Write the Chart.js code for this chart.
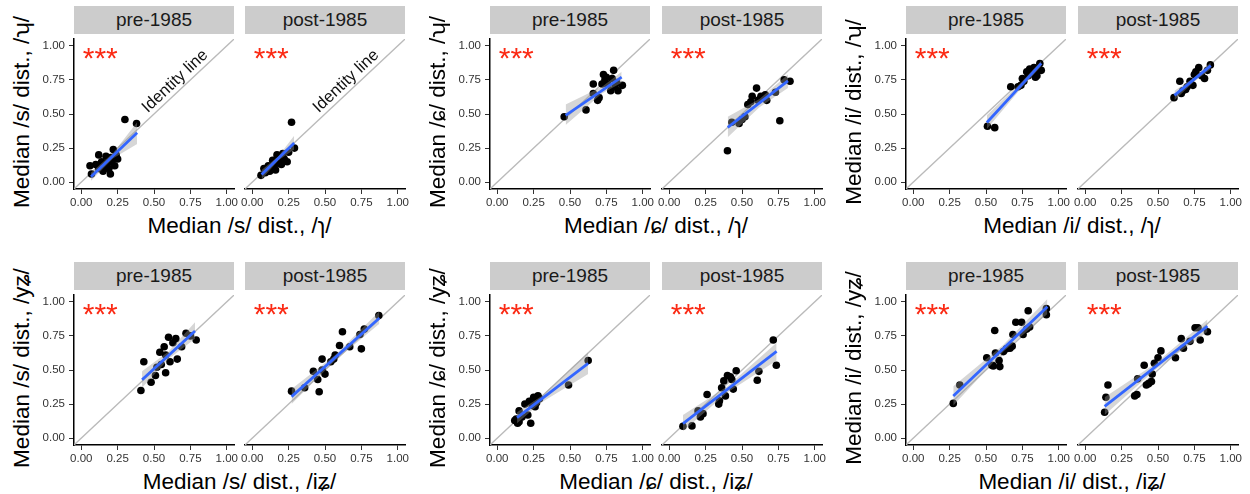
<!DOCTYPE html>
<html>
<head>
<meta charset="utf-8">
<script src="https://cdn.jsdelivr.net/npm/chart.js@4.4.1/dist/chart.umd.min.js"></script>
<style>
  body { margin: 0; background: #fff; width: 1250px; height: 494px; position: relative; overflow: hidden;
         font-family: "Liberation Sans", "DejaVu Sans", sans-serif; }
  canvas { position: absolute; }
  .strip { position: absolute; background: #cccccc; color: #1a1a1a; font-size: 19px; text-align: center;
           line-height: 28px; height: 28px; width: 160px; }
  .xt { position: absolute; font-size: 22.5px; text-align: center; color: #000; line-height: 26px; white-space: nowrap; }
  .yt { position: absolute; font-size: 22.5px; color: #000; line-height: 26px; white-space: nowrap;
        transform: translate(-50%, -50%) rotate(-90deg); }
</style>
</head>
<body>
<script>
const FONT = '"Liberation Sans", "DejaVu Sans", sans-serif';

// axis ticks and text
const ticks = [0, 0.25, 0.5, 0.75, 1];
const strips = ["pre-1985", "post-1985"];
const xTitles = ["Median /s/ dist., /ɿ/", "Median /ɕ/ dist., /ɿ/", "Median /i/ dist., /ɿ/",
                 "Median /s/ dist., /iʑ/", "Median /ɕ/ dist., /iʑ/", "Median /i/ dist., /iʑ/"];
const yTitles = ["Median /s/ dist., /ʮ/", "Median /ɕ/ dist., /ʮ/", "Median /i/ dist., /ʮ/",
                 "Median /s/ dist., /yʑ/", "Median /ɕ/ dist., /yʑ/", "Median /i/ dist., /yʑ/"];
const idLine = [[-0.05, -0.05], [1.05, 1.05]];
const starsAt = [0.01, 0.93];
const idLabelAt = [0.645, 0.74];

// row 1: /ʮ/ vs /ɿ/
const s_r1_pre = [[0.06,0.12],[0.07,0.06],[0.10,0.13],[0.12,0.20],[0.12,0.10],[0.14,0.15],[0.15,0.08],[0.16,0.12],[0.17,0.19],[0.18,0.14],[0.19,0.10],[0.20,0.06],[0.20,0.18],[0.21,0.15],[0.22,0.24],[0.23,0.12],[0.24,0.20],[0.25,0.17],[0.30,0.46],[0.38,0.43]];
const s_r1_pre_fit = [[0.067,0.04],[0.384,0.362]];
const s_r1_pre_band = [[0.067,0.01,0.07],[0.22,0.175,0.215],[0.384,0.28,0.44]];

const s_r1_post = [[0.06,0.05],[0.08,0.10],[0.09,0.07],[0.11,0.12],[0.12,0.08],[0.13,0.11],[0.14,0.16],[0.15,0.12],[0.16,0.09],[0.17,0.20],[0.18,0.14],[0.19,0.18],[0.20,0.13],[0.21,0.21],[0.22,0.17],[0.24,0.15],[0.25,0.22],[0.27,0.44],[0.29,0.25]];
const s_r1_post_fit = [[0.064,0.057],[0.288,0.288]];
const s_r1_post_band = [[0.064,0.02,0.09],[0.18,0.16,0.19],[0.288,0.24,0.34]];

const c_r1_pre = [[0.46,0.48],[0.61,0.53],[0.66,0.72],[0.66,0.65],[0.69,0.60],[0.70,0.62],[0.72,0.72],[0.73,0.79],[0.74,0.75],[0.75,0.77],[0.76,0.72],[0.78,0.67],[0.79,0.76],[0.80,0.82],[0.81,0.70],[0.82,0.73],[0.83,0.67],[0.86,0.71]];
const c_r1_pre_fit = [[0.47,0.49],[0.855,0.77]];
const c_r1_pre_band = [[0.47,0.42,0.57],[0.72,0.65,0.70],[0.855,0.73,0.81]];

const c_r1_post = [[0.40,0.23],[0.43,0.44],[0.48,0.43],[0.50,0.46],[0.52,0.48],[0.54,0.57],[0.56,0.59],[0.57,0.63],[0.60,0.69],[0.61,0.60],[0.63,0.63],[0.64,0.62],[0.66,0.64],[0.67,0.60],[0.73,0.66],[0.76,0.45],[0.79,0.75],[0.83,0.74]];
const c_r1_post_fit = [[0.402,0.402],[0.816,0.743]];
const c_r1_post_band = [[0.402,0.33,0.48],[0.62,0.55,0.61],[0.816,0.69,0.79]];

const i_r1_pre = [[0.51,0.41],[0.56,0.40],[0.67,0.70],[0.72,0.70],[0.74,0.71],[0.75,0.76],[0.76,0.74],[0.78,0.81],[0.79,0.78],[0.80,0.83],[0.82,0.80],[0.83,0.84],[0.84,0.77],[0.85,0.78],[0.86,0.82],[0.87,0.87],[0.88,0.82]];
const i_r1_pre_fit = [[0.506,0.438],[0.88,0.871]];
const i_r1_pre_band = [[0.506,0.39,0.49],[0.75,0.70,0.74],[0.88,0.85,0.89]];

const i_r1_post = [[0.61,0.62],[0.65,0.74],[0.66,0.65],[0.67,0.67],[0.69,0.68],[0.70,0.70],[0.72,0.74],[0.74,0.71],[0.75,0.79],[0.76,0.81],[0.78,0.84],[0.80,0.78],[0.82,0.76],[0.84,0.82],[0.86,0.86]];
const i_r1_post_fit = [[0.613,0.636],[0.863,0.855]];
const i_r1_post_band = [[0.613,0.60,0.67],[0.74,0.73,0.76],[0.863,0.83,0.88]];

// row 2: /yʑ/ vs /iʑ/
const s_r2_pre = [[0.41,0.35],[0.43,0.56],[0.48,0.41],[0.51,0.46],[0.52,0.52],[0.54,0.63],[0.55,0.54],[0.57,0.67],[0.58,0.48],[0.58,0.61],[0.60,0.74],[0.61,0.56],[0.63,0.70],[0.65,0.73],[0.66,0.58],[0.69,0.67],[0.72,0.77],[0.75,0.75],[0.79,0.72]];
const s_r2_pre_fit = [[0.418,0.429],[0.782,0.786]];
const s_r2_pre_band = [[0.418,0.37,0.49],[0.60,0.58,0.635],[0.782,0.73,0.85]];

const s_r2_post = [[0.27,0.345],[0.36,0.37],[0.42,0.49],[0.45,0.43],[0.46,0.34],[0.48,0.58],[0.48,0.50],[0.50,0.47],[0.54,0.56],[0.56,0.58],[0.57,0.61],[0.60,0.68],[0.62,0.78],[0.67,0.67],[0.74,0.76],[0.75,0.655],[0.77,0.80],[0.87,0.90]];
const s_r2_post_fit = [[0.27,0.305],[0.874,0.881]];
const s_r2_post_band = [[0.27,0.25,0.36],[0.57,0.57,0.61],[0.874,0.84,0.93]];

const c_r2_pre = [[0.12,0.13],[0.13,0.14],[0.14,0.11],[0.15,0.20],[0.15,0.12],[0.17,0.155],[0.19,0.25],[0.21,0.17],[0.22,0.27],[0.23,0.11],[0.24,0.24],[0.25,0.30],[0.26,0.23],[0.27,0.26],[0.28,0.31],[0.29,0.29],[0.49,0.39],[0.625,0.57]];
const c_r2_pre_fit = [[0.136,0.15],[0.625,0.548]];
const c_r2_pre_band = [[0.136,0.11,0.19],[0.30,0.26,0.305],[0.625,0.47,0.63]];

const c_r2_post = [[0.094,0.088],[0.156,0.09],[0.198,0.20],[0.214,0.155],[0.232,0.18],[0.26,0.32],[0.34,0.25],[0.345,0.275],[0.36,0.37],[0.375,0.42],[0.386,0.31],[0.40,0.46],[0.42,0.45],[0.43,0.43],[0.44,0.36],[0.46,0.495],[0.605,0.425],[0.616,0.49],[0.715,0.72],[0.736,0.535]];
const c_r2_post_fit = [[0.094,0.107],[0.738,0.636]];
const c_r2_post_band = [[0.094,0.05,0.17],[0.40,0.335,0.38],[0.738,0.57,0.70]];

const i_r2_pre = [[0.275,0.255],[0.32,0.39],[0.505,0.59],[0.54,0.535],[0.55,0.53],[0.56,0.79],[0.565,0.625],[0.59,0.57],[0.595,0.525],[0.62,0.635],[0.64,0.655],[0.665,0.66],[0.68,0.675],[0.685,0.76],[0.705,0.85],[0.745,0.85],[0.755,0.76],[0.78,0.80],[0.79,0.935],[0.80,0.815],[0.915,0.95],[0.915,0.905]];
const i_r2_pre_fit = [[0.275,0.31],[0.922,0.964]];
const i_r2_pre_band = [[0.275,0.24,0.38],[0.62,0.635,0.685],[0.922,0.91,1.02]];

const i_r2_post = [[0.133,0.19],[0.142,0.30],[0.156,0.39],[0.34,0.31],[0.355,0.32],[0.36,0.435],[0.405,0.535],[0.42,0.39],[0.435,0.40],[0.455,0.415],[0.46,0.47],[0.475,0.55],[0.50,0.59],[0.52,0.64],[0.62,0.59],[0.66,0.73],[0.675,0.66],[0.72,0.71],[0.755,0.81],[0.775,0.81],[0.79,0.72],[0.84,0.78]];
const i_r2_post_fit = [[0.133,0.233],[0.84,0.821]];
const i_r2_post_band = [[0.133,0.17,0.30],[0.48,0.50,0.545],[0.84,0.78,0.87]];

// layout
const colLeft = [74, 245, 490, 662, 906, 1078];
const rowTop = [35, 291];
const panelW = 160, panelH = 154, padL = 36, padR = 10, axisH = 22;

const panels = [
  [s_r1_pre, s_r1_pre_fit, s_r1_pre_band], [s_r1_post, s_r1_post_fit, s_r1_post_band],
  [c_r1_pre, c_r1_pre_fit, c_r1_pre_band], [c_r1_post, c_r1_post_fit, c_r1_post_band],
  [i_r1_pre, i_r1_pre_fit, i_r1_pre_band], [i_r1_post, i_r1_post_fit, i_r1_post_band],
  [s_r2_pre, s_r2_pre_fit, s_r2_pre_band], [s_r2_post, s_r2_post_fit, s_r2_post_band],
  [c_r2_pre, c_r2_pre_fit, c_r2_pre_band], [c_r2_post, c_r2_post_fit, c_r2_post_band],
  [i_r2_pre, i_r2_pre_fit, i_r2_pre_band], [i_r2_post, i_r2_post_fit, i_r2_post_band],
];

const xy = (arr) => arr.map(([x, y]) => ({ x, y }));

const annot = {
  id: 'annot',
  afterDatasetsDraw(chart, args, opts) {
    const { ctx, scales: { x, y } } = chart;
    ctx.save();
    ctx.fillStyle = '#fb2a14';
    ctx.font = '30px ' + FONT;
    ctx.textAlign = 'left';
    ctx.textBaseline = 'alphabetic';
    ctx.fillText('***', x.getPixelForValue(starsAt[0]), y.getPixelForValue(starsAt[1]) + 13);
    if (opts.idLabel) {
      const ang = Math.atan2(y.getPixelForValue(1) - y.getPixelForValue(0), x.getPixelForValue(1) - x.getPixelForValue(0));
      ctx.translate(x.getPixelForValue(idLabelAt[0]), y.getPixelForValue(idLabelAt[1]));
      ctx.rotate(ang);
      ctx.fillStyle = '#111';
      ctx.font = '16.5px ' + FONT;
      ctx.textAlign = 'center';
      ctx.textBaseline = 'middle';
      ctx.fillText('Identity line', 0, 0);
    }
    ctx.restore();
  }
};

function addDiv(cls, text, css) {
  const d = document.createElement('div');
  d.className = cls;
  d.textContent = text;
  Object.assign(d.style, css);
  document.body.appendChild(d);
}

panels.forEach(([pts, fit, band], i) => {
  const row = Math.floor(i / 6), col = i % 6, post = col % 2 === 1;
  const left = colLeft[col], top = rowTop[row];

  addDiv('strip', strips[col % 2], { left: left + 'px', top: (top - 29) + 'px' });

  const canvas = document.createElement('canvas');
  canvas.width = padL + panelW + padR;
  canvas.height = panelH + axisH;
  canvas.style.left = (left - padL) + 'px';
  canvas.style.top = top + 'px';
  document.body.appendChild(canvas);

  const tickFont = { size: 11.5, family: FONT };
  new Chart(canvas, {
    type: 'scatter',
    data: {
      datasets: [
        { type: 'line', data: xy(idLine), borderColor: '#bababa', borderWidth: 1.3, pointRadius: 0, order: 4 },
        { data: xy(pts), pointRadius: 3.8, backgroundColor: '#000', borderWidth: 0, order: 3 },
        { type: 'line', data: band.map(([x, lo, hi]) => ({ x, y: hi })), borderWidth: 0, pointRadius: 0,
          fill: '+1', backgroundColor: 'rgba(153,153,153,0.4)', order: 2 },
        { type: 'line', data: band.map(([x, lo]) => ({ x, y: lo })), borderWidth: 0, pointRadius: 0, fill: false, order: 2 },
        { type: 'line', data: xy(fit), borderColor: '#3366ff', borderWidth: 2.8, pointRadius: 0, order: 1 },
      ]
    },
    options: {
      responsive: false, animation: false, events: [],
      layout: { padding: { left: post ? padL : 0, right: padR, top: 0, bottom: 0 } },
      plugins: { legend: { display: false }, tooltip: { enabled: false }, annot: { idLabel: i < 2 } },
      scales: {
        x: {
          type: 'linear', min: -0.05, max: 1.05,
          afterBuildTicks: (s) => { s.ticks = ticks.map((v) => ({ value: v })); },
          afterFit: (s) => { s.height = axisH; s.paddingLeft = 0; s.paddingRight = 0; },
          ticks: { callback: (v) => v.toFixed(2), font: tickFont, color: '#333', padding: 2, maxRotation: 0, autoSkip: false },
          grid: { drawOnChartArea: false, tickLength: 5, tickColor: '#333', tickWidth: 1 },
          border: { color: '#000', width: 1.5 }
        },
        y: {
          type: 'linear', min: -0.05, max: 1.05, display: !post,
          afterBuildTicks: (s) => { s.ticks = ticks.map((v) => ({ value: v })); },
          afterFit: (s) => { s.width = post ? 0 : padL; s.paddingTop = 0; s.paddingBottom = 0; },
          ticks: { callback: (v) => v.toFixed(2), font: tickFont, color: '#333', padding: 4, autoSkip: false },
          grid: { drawOnChartArea: false, tickLength: 5, tickColor: '#333', tickWidth: 1 },
          border: { color: '#000', width: 1.5 }
        }
      }
    },
    plugins: [annot]
  });

  if (!post) {
    const g = Math.floor(col / 2) + row * 3;
    const right = colLeft[col + 1] + panelW;
    addDiv('xt', xTitles[g], { left: left + 'px', width: (right - left) + 'px', top: (top + panelH + 24) + 'px' });
    addDiv('yt', yTitles[g], { left: (left - 52) + 'px', top: (top + panelH / 2) + 'px' });
  }
});
</script>
</body>
</html>
